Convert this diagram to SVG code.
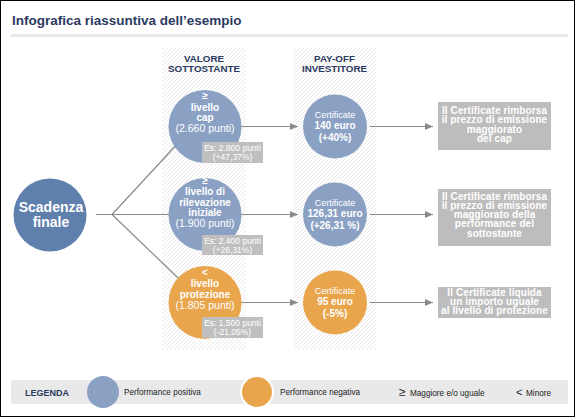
<svg xmlns="http://www.w3.org/2000/svg" width="575" height="417" viewBox="0 0 575 417">
<style>
text{font-family:"Liberation Sans",Arial,Helvetica,sans-serif}
.title{font-size:13.5px;font-weight:bold;fill:#2b3a60}
.hdr{font-size:9.8px;font-weight:bold;fill:#2b3a60;text-anchor:middle}
.cb{font-size:10px;font-weight:bold;fill:#fff;text-anchor:middle}
.cr{font-size:10.5px;fill:#fff;text-anchor:middle}
.es{font-size:8.5px;fill:#fff;text-anchor:middle}
.c2r{font-size:9px;fill:#fff;text-anchor:middle}
.bx{font-size:10px;font-weight:bold;fill:#fff;text-anchor:middle;letter-spacing:0.1px}
.lg{font-size:8.2px;fill:#222}
.conn{stroke:#8a8a8a;stroke-width:1.2;fill:none}
.pos{fill:#8aa1c4}
.neg{fill:#e9a54c}
.esbox{fill:#bfbfbf}
.rbox{fill:#bdbdbd}
</style>
<defs>
<pattern id="hatch" patternUnits="userSpaceOnUse" width="4" height="4">
<path d="M-1,1 l2,-2 M0,4 l4,-4 M3,5 l2,-2" stroke="#e3e3e3" stroke-width="0.8"/>
</pattern>
<marker id="ah" markerUnits="userSpaceOnUse" markerWidth="9" markerHeight="8" refX="8" refY="3.5" orient="auto">
<path d="M0,0 L8,3.5 L0,7 z" fill="#8a8a8a"/>
</marker>
</defs>
<rect x="0.5" y="0.5" width="574" height="416" fill="#fff" stroke="#000" stroke-width="1"/>
<text class="title" x="12" y="25">Infografica riassuntiva dell’esempio</text>
<rect x="11" y="34" width="557" height="3" fill="#e8e8e8"/>
<g id="columns">
<rect x="162" y="48" width="84" height="302" fill="url(#hatch)"/>
<rect x="293" y="48" width="83" height="302" fill="url(#hatch)"/>
<text class="hdr" x="204" y="61.7">VALORE</text>
<text class="hdr" x="204" y="71.7">SOTTOSTANTE</text>
<text class="hdr" x="334.5" y="61.7">PAY-OFF</text>
<text class="hdr" x="334.5" y="71.7">INVESTITORE</text>
</g>
<g id="connectors">
<path class="conn" d="M96,214.5 H112 M112,214.5 L186,134.5 M112,214.5 H180 M112,214.5 L188,287.5"/>
<path class="conn" marker-end="url(#ah)" d="M241,126.5 H298"/>
<path class="conn" marker-end="url(#ah)" d="M241,214.5 H298"/>
<path class="conn" marker-end="url(#ah)" d="M241,302.5 H298"/>
<path class="conn" marker-end="url(#ah)" d="M370,126.5 H433"/>
<path class="conn" marker-end="url(#ah)" d="M370,214.5 H433"/>
<path class="conn" marker-end="url(#ah)" d="M370,302.5 H433"/>
</g>
<g id="scadenza">
<circle cx="50" cy="215" r="36.5" fill="#5f7fad"/>
<text x="51" y="212" font-size="14px" font-weight="bold" fill="#fff" text-anchor="middle">Scadenza</text>
<text x="51" y="227" font-size="14px" font-weight="bold" fill="#fff" text-anchor="middle">finale</text>
</g>
<g id="sott-cap">
<circle class="pos" cx="205" cy="126.5" r="36.5"/>
<text class="cb" x="205" y="99">≥</text>
<text class="cb" x="205" y="110.5">livello</text>
<text class="cb" x="205" y="121">cap</text>
<text class="cr" x="205" y="132">(2.660 punti)</text>
<rect class="esbox" x="202" y="142" width="61" height="21"/>
<text class="es" x="232.5" y="151">Es: 2.800 punti</text>
<text class="es" x="232.5" y="160">(+47,37%)</text>
</g>
<g id="sott-iniziale">
<circle class="pos" cx="205" cy="214.5" r="36.5"/>
<text class="cb" x="205" y="184">≥</text>
<text class="cb" x="205" y="195">livello di</text>
<text class="cb" x="205" y="205.5">rilevazione</text>
<text class="cb" x="205" y="216">iniziale</text>
<text class="cr" x="205" y="227">(1.900 punti)</text>
<rect class="esbox" x="202" y="235" width="61" height="20"/>
<text class="es" x="232.5" y="243.5">Es: 2.400 punti</text>
<text class="es" x="232.5" y="252.5">(+26,31%)</text>
</g>
<g id="sott-protezione">
<circle class="neg" cx="205" cy="302.5" r="36.5"/>
<text class="cb" x="205" y="275.5">&lt;</text>
<text class="cb" x="205" y="286.5">livello</text>
<text class="cb" x="205" y="297.5">protezione</text>
<text class="cr" x="205" y="308.5">(1.805 punti)</text>
<rect class="esbox" x="202" y="317" width="61" height="21"/>
<text class="es" x="232.5" y="325.5">Es: 1.500 punti</text>
<text class="es" x="232.5" y="334.5">(-21,05%)</text>
</g>
<g id="payoff-140">
<circle class="pos" cx="335" cy="126.5" r="32"/>
<text class="c2r" x="335" y="117.5">Certificate</text>
<text class="cb" x="335" y="129">140 euro</text>
<text class="cb" x="335" y="140.5">(+40%)</text>
</g>
<g id="payoff-126">
<circle class="pos" cx="335" cy="214.5" r="32"/>
<text class="c2r" x="335" y="205.5">Certificate</text>
<text class="cb" x="335" y="217">126,31 euro</text>
<text class="cb" x="335" y="228.5">(+26,31 %)</text>
</g>
<g id="payoff-95">
<circle class="neg" cx="335" cy="302.5" r="32"/>
<text class="c2r" x="335" y="293.5">Certificate</text>
<text class="cb" x="335" y="305">95 euro</text>
<text class="cb" x="335" y="316.5">(-5%)</text>
</g>
<g id="esito-cap">
<rect class="rbox" x="438" y="102" width="113" height="48"/>
<text class="bx" x="494.5" y="114">Il Certificate rimborsa</text>
<text class="bx" x="494.5" y="123.3">il prezzo di emissione</text>
<text class="bx" x="494.5" y="132.6">maggiorato</text>
<text class="bx" x="494.5" y="141.9">del cap</text>
</g>
<g id="esito-performance">
<rect class="rbox" x="438" y="189" width="113" height="57"/>
<text class="bx" x="494.5" y="199.5">Il Certificate rimborsa</text>
<text class="bx" x="494.5" y="208.8">il prezzo di emissione</text>
<text class="bx" x="494.5" y="218.1">maggiorato della</text>
<text class="bx" x="494.5" y="227.4">performance del</text>
<text class="bx" x="494.5" y="236.7">sottostante</text>
</g>
<g id="esito-protezione">
<rect class="rbox" x="438" y="287" width="113" height="31"/>
<text class="bx" x="494.5" y="295.5">Il Certificate liquida</text>
<text class="bx" x="494.5" y="304.8">un importo uguale</text>
<text class="bx" x="494.5" y="314.1">al livello di protezione</text>
</g>
<g id="legenda">
<rect x="11" y="380" width="557" height="24" fill="#e9e9ea"/>
<text x="25" y="395.5" font-size="9px" font-weight="bold" fill="#2b3a60">LEGENDA</text>
<circle class="pos" cx="103" cy="392" r="16"/>
<text class="lg" x="124" y="395">Performance positiva</text>
<circle class="neg" cx="257" cy="392" r="16" stroke="#fff" stroke-width="2"/>
<text class="lg" x="280" y="395">Performance negativa</text>
<text x="399" y="396" font-size="12px" fill="#222">≥</text>
<text class="lg" x="410" y="395.5">Maggiore e/o uguale</text>
<text x="516" y="395.5" font-size="11px" fill="#222">&lt;</text>
<text class="lg" x="526" y="395.5">Minore</text>
</g>
</svg>
